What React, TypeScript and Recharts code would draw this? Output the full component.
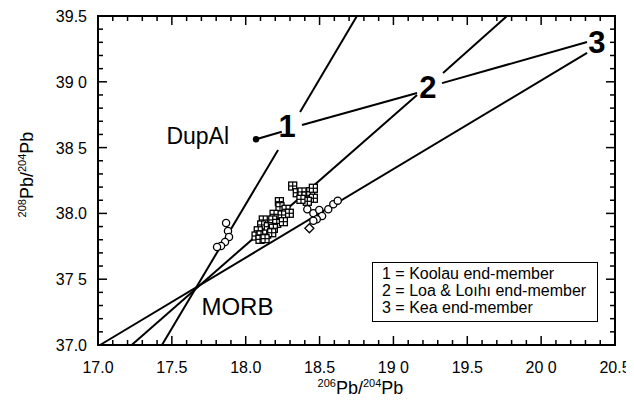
import { ScatterChart, Scatter, XAxis, YAxis, ReferenceLine } from "recharts";

// tick values and the labels as printed on the figure
const xMajor = [17.0, 17.5, 18.0, 18.5, 19.0, 19.5, 20.0, 20.5];
const xMajorLabels = ["17.0", "17.5", "18.0", "18.5", "19 0", "19.5", "20 0", "20.5"];
const yMajor = [37.0, 37.5, 38.0, 38.5, 39.0, 39.5];
const yMajorLabels = ["37.0", "37 5", "38.0", "38 5", "39 0", "39.5"];
const xTicks = Array.from({ length: 36 }, (_, i) => Math.round((17 + i * 0.1) * 10) / 10);
const yTicks = Array.from({ length: 26 }, (_, i) => Math.round((37 + i * 0.1) * 10) / 10);

// Koolau lavas (open circles, left)
const koolau = [
  { x: 17.867, y: 37.927 },
  { x: 17.88, y: 37.866 },
  { x: 17.887, y: 37.821 },
  { x: 17.86, y: 37.783 },
  { x: 17.833, y: 37.752 },
  { x: 17.806, y: 37.745 },
];

// Loa / Loihi lavas (gridded squares)
const loa = [
  { x: 18.318, y: 38.208 }, { x: 18.349, y: 38.157 }, { x: 18.381, y: 38.163 },
  { x: 18.408, y: 38.132 }, { x: 18.44, y: 38.165 }, { x: 18.458, y: 38.191 },
  { x: 18.458, y: 38.115 }, { x: 18.417, y: 38.092 }, { x: 18.374, y: 38.107 },
  { x: 18.228, y: 38.089 }, { x: 18.232, y: 38.051 }, { x: 18.273, y: 38.031 },
  { x: 18.295, y: 38.001 }, { x: 18.243, y: 37.988 }, { x: 18.192, y: 37.993 },
  { x: 18.183, y: 37.95 }, { x: 18.21, y: 37.924 }, { x: 18.255, y: 37.937 },
  { x: 18.119, y: 37.95 }, { x: 18.108, y: 37.912 }, { x: 18.153, y: 37.899 },
  { x: 18.187, y: 37.887 }, { x: 18.085, y: 37.868 }, { x: 18.07, y: 37.828 },
  { x: 18.104, y: 37.836 }, { x: 18.142, y: 37.843 }, { x: 18.176, y: 37.853 },
  { x: 18.097, y: 37.803 }, { x: 18.131, y: 37.808 },
];

// Kea lavas (open circles / diamond, right)
const kea = [
  { x: 18.417, y: 38.031 }, { x: 18.458, y: 38.001 }, { x: 18.498, y: 38.026 },
  { x: 18.517, y: 37.98 }, { x: 18.481, y: 37.955 }, { x: 18.458, y: 37.944 },
  { x: 18.559, y: 38.031 }, { x: 18.593, y: 38.069 }, { x: 18.623, y: 38.097 },
];
const keaDiamond = [{ x: 18.431, y: 37.887 }];

const endMembers = [
  { name: "1", x: 18.28, y: 38.657 },
  { name: "2", x: 19.234, y: 38.957 },
  { name: "3", x: 20.378, y: 39.302 },
];
const dupal = [{ name: "DupAl", x: 18.07, y: 38.563 }];
const morb = [{ name: "MORB", x: 17.944, y: 37.289 }];

// mixing lines through MORB (broken at the end-member numbers)
const mixingLines = [
  [{ x: 17.433, y: 37.0 }, { x: 18.219, y: 38.482 }],
  [{ x: 18.368, y: 38.77 }, { x: 18.753, y: 39.5 }],
  [{ x: 17.228, y: 37.0 }, { x: 19.16, y: 38.9 }],
  [{ x: 19.336, y: 39.067 }, { x: 19.769, y: 39.5 }],
  [{ x: 17.014, y: 37.0 }, { x: 20.311, y: 39.219 }],
];
// DupAl -> 1 -> 2 -> 3
const tieLines = [
  [{ x: 18.07, y: 38.563 }, { x: 18.244, y: 38.62 }],
  [{ x: 18.381, y: 38.672 }, { x: 19.16, y: 38.915 }],
  [{ x: 19.329, y: 38.99 }, { x: 20.311, y: 39.302 }],
];

const font = "'Liberation Sans', Arial, Helvetica, sans-serif";
const isMajor = (v: number) => Math.round(v * 10) % 5 === 0;

// plot box inside the chart (margin + axis sizes below)
const W = 626;
const H = 392;
const M = { top: 8, right: 19, bottom: 0, left: 0 };
const Y_AXIS_W = 90;
const X_AXIS_H = 55;
const plot = {
  left: M.left + Y_AXIS_W,
  top: M.top,
  width: W - M.left - M.right - Y_AXIS_W,
  height: H - M.top - M.bottom - X_AXIS_H,
};
const px = (v: number) => plot.left + ((v - 17) / 3.5) * plot.width;
const py = (v: number) => plot.top + ((39.5 - v) / 2.5) * plot.height;

// frame and inward tick marks on all four sides
const Frame = () => (
  <svg width={W} height={H} style={{ position: "absolute", left: 0, top: 0, pointerEvents: "none" }}>
    <rect x={plot.left} y={plot.top} width={plot.width} height={plot.height} fill="none" stroke="#000" strokeWidth={2} />
    {xTicks.map((v) => {
      const len = isMajor(v) ? 9 : 5;
      return (
        <g key={`x${v}`}>
          <line x1={px(v)} x2={px(v)} y1={py(37)} y2={py(37) - len} stroke="#000" strokeWidth={1.5} />
          <line x1={px(v)} x2={px(v)} y1={py(39.5)} y2={py(39.5) + len} stroke="#000" strokeWidth={1.5} />
        </g>
      );
    })}
    {yTicks.map((v) => {
      const len = isMajor(v) ? 9 : 5;
      return (
        <g key={`y${v}`}>
          <line x1={px(17)} x2={px(17) + len} y1={py(v)} y2={py(v)} stroke="#000" strokeWidth={1.5} />
          <line x1={px(20.5)} x2={px(20.5) - len} y1={py(v)} y2={py(v)} stroke="#000" strokeWidth={1.5} />
        </g>
      );
    })}
  </svg>
);

const XTick = ({ x, y, payload }: any) => {
  const i = xMajor.findIndex((m) => Math.abs(m - payload.value) < 1e-6);
  if (i < 0) return <g />;
  return (
    <text x={x} y={y + 28} textAnchor="middle" fontSize={16} fontFamily={font} fill="#000">
      {xMajorLabels[i]}
    </text>
  );
};

const YTick = ({ x, y, payload }: any) => {
  const i = yMajor.findIndex((m) => Math.abs(m - payload.value) < 1e-6);
  if (i < 0) return <g />;
  return (
    <text x={x - 11} y={y + 6} textAnchor="end" fontSize={16} fontFamily={font} fill="#000">
      {yMajorLabels[i]}
    </text>
  );
};

const XTitle = ({ viewBox }: any) => {
  const cx = viewBox.x + viewBox.width / 2 + 4;
  const cy = viewBox.y + 49;
  return (
    <text x={cx} y={cy} textAnchor="middle" fontFamily={font} fill="#000">
      <tspan fontSize={11} dy={-7}>206</tspan>
      <tspan fontSize={18} dy={7}>Pb/</tspan>
      <tspan fontSize={11} dy={-7}>204</tspan>
      <tspan fontSize={18} dy={7}>Pb</tspan>
    </text>
  );
};

const YTitle = ({ viewBox }: any) => {
  const cx = viewBox.x + 25;
  const cy = viewBox.y + viewBox.height / 2 - 6;
  return (
    <text x={cx} y={cy} textAnchor="middle" fontFamily={font} fill="#000" transform={`rotate(-90, ${cx}, ${cy})`}>
      <tspan fontSize={11} dy={-7}>208</tspan>
      <tspan fontSize={18} dy={7}>Pb/</tspan>
      <tspan fontSize={11} dy={-7}>204</tspan>
      <tspan fontSize={18} dy={7}>Pb</tspan>
    </text>
  );
};

const OpenCircle = ({ cx, cy }: any) => (
  <circle cx={cx} cy={cy} r={3.6} fill="#fff" stroke="#000" strokeWidth={1.3} />
);
const OpenDiamond = ({ cx, cy }: any) => (
  <polygon points={`${cx},${cy - 4.5} ${cx + 4.5},${cy} ${cx},${cy + 4.5} ${cx - 4.5},${cy}`} fill="#fff" stroke="#000" strokeWidth={1.3} />
);
const GridSquare = ({ cx, cy }: any) => (
  <g>
    <rect x={cx - 4} y={cy - 4} width={8} height={8} fill="#fff" stroke="#000" strokeWidth={1.3} />
    <rect x={cx - 0.6} y={cy - 4} width={1.2} height={8} fill="#000" />
    <rect x={cx - 4} y={cy - 0.6} width={8} height={1.2} fill="#000" />
  </g>
);
const NumberLabel = ({ cx, cy, payload }: any) => (
  <text x={cx} y={cy} textAnchor="middle" dominantBaseline="central" fontSize={31} fontWeight="bold" fontFamily={font} fill="#000">
    {payload.name}
  </text>
);
const DupalMark = ({ cx, cy, payload }: any) => (
  <g>
    <circle cx={cx} cy={cy} r={3.2} fill="#000" />
    <text x={cx - 27} y={cy - 3} textAnchor="end" dominantBaseline="central" fontSize={23} fontFamily={font} fill="#000">
      {payload.name}
    </text>
  </g>
);
const PlainLabel = ({ cx, cy, payload }: any) => (
  <text x={cx} y={cy} textAnchor="middle" dominantBaseline="central" fontSize={24} fontFamily={font} fill="#000">
    {payload.name}
  </text>
);

const Legend = () => (
  <div
    style={{
      position: "absolute",
      left: 364,
      top: 254,
      width: 226,
      height: 60,
      border: "1.5px solid #000",
      boxSizing: "border-box",
      padding: "2px 0 0 9px",
      fontFamily: font,
      fontSize: 16,
      lineHeight: "17px",
      color: "#000",
      background: "#fff",
    }}
  >
    <div>1 = Koolau end-member</div>
    <div>2 = Loa &amp; Loıhı end-member</div>
    <div>3 = Kea end-member</div>
  </div>
);

export default function App() {
  return (
    <div style={{ position: "relative", width: W, height: H }}>
      <ScatterChart width={W} height={H} margin={M}>
        <XAxis
          dataKey="x"
          type="number"
          domain={[17, 20.5]}
          ticks={xTicks}
          interval={0}
          height={X_AXIS_H}
          tickSize={0}
          tickMargin={0}
          tickLine={false}
          axisLine={false}
          tick={<XTick />}
          label={<XTitle />}
        />
        <YAxis
          dataKey="y"
          type="number"
          domain={[37, 39.5]}
          ticks={yTicks}
          interval={0}
          width={Y_AXIS_W}
          tickSize={0}
          tickMargin={0}
          tickLine={false}
          axisLine={false}
          tick={<YTick />}
          label={<YTitle />}
        />
        {mixingLines.map((seg, i) => (
          <ReferenceLine key={`m${i}`} segment={seg} stroke="#000" strokeWidth={2} ifOverflow="visible" />
        ))}
        {tieLines.map((seg, i) => (
          <ReferenceLine key={`t${i}`} segment={seg} stroke="#000" strokeWidth={2} ifOverflow="visible" />
        ))}
        <Scatter data={koolau} shape={<OpenCircle />} isAnimationActive={false} />
        <Scatter data={loa} shape={<GridSquare />} isAnimationActive={false} />
        <Scatter data={kea} shape={<OpenCircle />} isAnimationActive={false} />
        <Scatter data={keaDiamond} shape={<OpenDiamond />} isAnimationActive={false} />
        <Scatter data={endMembers} shape={<NumberLabel />} isAnimationActive={false} />
        <Scatter data={dupal} shape={<DupalMark />} isAnimationActive={false} />
        <Scatter data={morb} shape={<PlainLabel />} isAnimationActive={false} />
      </ScatterChart>
      <Frame />
      <Legend />
    </div>
  );
}
